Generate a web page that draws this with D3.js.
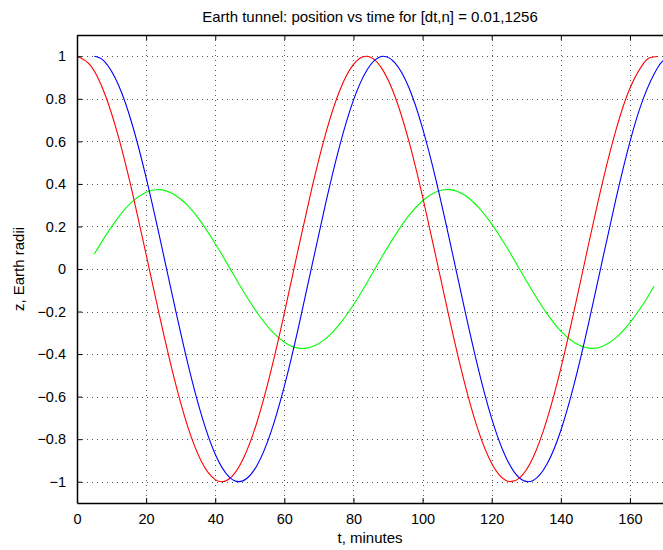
<!DOCTYPE html>
<html>
<head>
<meta charset="utf-8">
<script src="https://cdn.jsdelivr.net/npm/d3@7"></script>
<style>
body { margin: 0; background: #fff; }
text { font-family: "Liberation Sans", Arial, Helvetica, sans-serif; fill: #000; }
</style>
</head>
<body>
<script>
// values
var tRed = [0,4,8,12,16,20,24,28,32,36,40,44,48,52,56,60,64,68,72,76,80,84,88,92,96,100,104,108,112,116,120,124,128,132,136,140,144,148,152,156,160,164,166,168];
var zRed = [1.000,0.955,0.825,0.621,0.361,0.069,-0.229,-0.506,-0.739,-0.905,-0.990,-0.987,-0.895,-0.724,-0.487,-0.207,0.092,0.382,0.639,0.838,0.962,1.000,0.948,0.812,0.603,0.340,0.047,-0.251,-0.526,-0.754,-0.914,-0.993,-0.983,-0.885,-0.707,-0.467,-0.185,0.114,0.403,0.656,0.850,0.968,0.994,0.999];

var tBlue = [5,8,12,16,20,24,28,32,36,40,44,48,52,56,60,64,68,72,76,80,84,88,92,96,100,104,108,112,116,120,124,128,132,136,140,144,148,152,156,160,164,168,170];
var zBlue = [1.000,0.975,0.865,0.678,0.430,0.144,-0.155,-0.440,-0.686,-0.871,-0.977,-0.996,-0.926,-0.773,-0.551,-0.280,0.017,0.312,0.579,0.794,0.938,0.999,0.969,0.854,0.661,0.410,0.122,-0.177,-0.461,-0.703,-0.881,-0.982,-0.994,-0.917,-0.759,-0.532,-0.258,0.039,0.333,0.598,0.807,0.946,0.984];

var tGreen = [5,8,12,16,20,24,28,32,36,40,44,48,52,56,60,64,68,72,76,80,84,88,92,96,100,104,108,112,116,120,124,128,132,136,140,144,148,152,156,160,164,167];
var zGreen = [0.070,0.150,0.244,0.317,0.361,0.373,0.351,0.299,0.219,0.119,0.010,-0.101,-0.202,-0.286,-0.344,-0.372,-0.365,-0.327,-0.259,-0.168,-0.062,0.051,0.157,0.251,0.321,0.363,0.373,0.349,0.293,0.211,0.112,0.001,-0.109,-0.210,-0.292,-0.347,-0.372,-0.364,-0.323,-0.252,-0.161,-0.080];

var xTicks = [0,20,40,60,80,100,120,140,160];
var yTicks = [-1,-0.8,-0.6,-0.4,-0.2,0,0.2,0.4,0.6,0.8,1];

var W = 663, H = 550;
var margin = {top: 35, left: 77, bottom: 47};
var plotH = H - margin.top - margin.bottom;

var xScale = d3.scaleLinear().domain([0, 170]).range([margin.left, margin.left + 587.5]);
var yScale = d3.scaleLinear().domain([-1.1, 1.1]).range([margin.top + plotH, margin.top]);

var svg = d3.select("body").append("svg")
    .attr("width", W)
    .attr("height", H);

svg.append("rect").attr("width", W).attr("height", H).attr("fill", "#fff");

svg.append("clipPath").attr("id", "plotclip")
    .append("rect")
    .attr("x", xScale(0)).attr("y", yScale(1.1))
    .attr("width", xScale(170) - xScale(0))
    .attr("height", yScale(-1.1) - yScale(1.1));

// dotted grid
var grid = svg.append("g").attr("clip-path", "url(#plotclip)");
grid.selectAll("line.gx")
    .data(xTicks.slice(1))
    .enter()
    .append("line")
    .attr("class", "gx")
    .attr("x1", function(d){ return Math.round(xScale(d)) + 0.5; })
    .attr("x2", function(d){ return Math.round(xScale(d)) + 0.5; })
    .attr("y1", yScale(1.1))
    .attr("y2", yScale(-1.1))
    .attr("stroke", "#555")
    .attr("stroke-width", 1)
    .attr("stroke-dasharray", "1,4");
grid.selectAll("line.gy")
    .data(yTicks)
    .enter()
    .append("line")
    .attr("class", "gy")
    .attr("y1", function(d){ return Math.round(yScale(d)) + 0.5; })
    .attr("y2", function(d){ return Math.round(yScale(d)) + 0.5; })
    .attr("x1", xScale(0))
    .attr("x2", xScale(170))
    .attr("stroke", "#555")
    .attr("stroke-width", 1)
    .attr("stroke-dasharray", "1,4");

// curves
var line = d3.line()
    .x(function(d){ return xScale(d[0]); })
    .y(function(d){ return yScale(d[1]); })
    .curve(d3.curveNatural);

var series = [
    {t: tGreen, z: zGreen, color: "#00ff00"},
    {t: tRed, z: zRed, color: "#ff0000"},
    {t: tBlue, z: zBlue, color: "#0000ff"}
];

svg.append("g").attr("clip-path", "url(#plotclip)")
    .selectAll("path")
    .data(series)
    .enter()
    .append("path")
    .attr("d", function(s){ return line(d3.zip(s.t, s.z)); })
    .attr("fill", "none")
    .attr("stroke", function(s){ return s.color; })
    .attr("stroke-width", 1.1);

// axes: ticks pointing inward, on both sides
var fmt = function(d){ return (d < 0 ? "\u2212" : "") + d3.format("~g")(Math.abs(d)); };

var xAxis = d3.axisBottom(xScale).tickValues(xTicks).tickSizeInner(-5).tickSizeOuter(0).tickPadding(11).tickFormat(fmt);
var xAxisTop = d3.axisTop(xScale).tickValues(xTicks).tickSizeInner(-5).tickSizeOuter(0).tickFormat("");
var yAxis = d3.axisLeft(yScale).tickValues(yTicks).tickSizeInner(-5).tickSizeOuter(0).tickPadding(11).tickFormat(fmt);

function style(g) {
    g.select(".domain").attr("stroke", "#000").attr("stroke-width", 1.5);
    g.selectAll(".tick line").attr("stroke", "#000").attr("stroke-width", 1);
    g.selectAll(".tick text").style("font-size", "14.5px").attr("fill", "#000");
}

svg.append("g").attr("transform", "translate(0," + yScale(-1.1) + ")").call(xAxis).call(style);
svg.append("g").attr("transform", "translate(0," + yScale(1.1) + ")").call(xAxisTop).call(style);
svg.append("g").attr("transform", "translate(" + xScale(0) + ",0)").call(yAxis).call(style);

// labels
svg.append("text")
    .attr("x", (xScale(0) + W) / 2)
    .attr("y", 22)
    .attr("text-anchor", "middle")
    .style("font-size", "15px")
    .text("Earth tunnel: position vs time for [dt,n] = 0.01,1256");

svg.append("text")
    .attr("x", (xScale(0) + W) / 2)
    .attr("y", 543)
    .attr("text-anchor", "middle")
    .style("font-size", "15px")
    .text("t, minutes");

svg.append("text")
    .attr("transform", "translate(24," + yScale(0) + ") rotate(-90)")
    .attr("text-anchor", "middle")
    .style("font-size", "15px")
    .text("z, Earth radii");
</script>
</body>
</html>
